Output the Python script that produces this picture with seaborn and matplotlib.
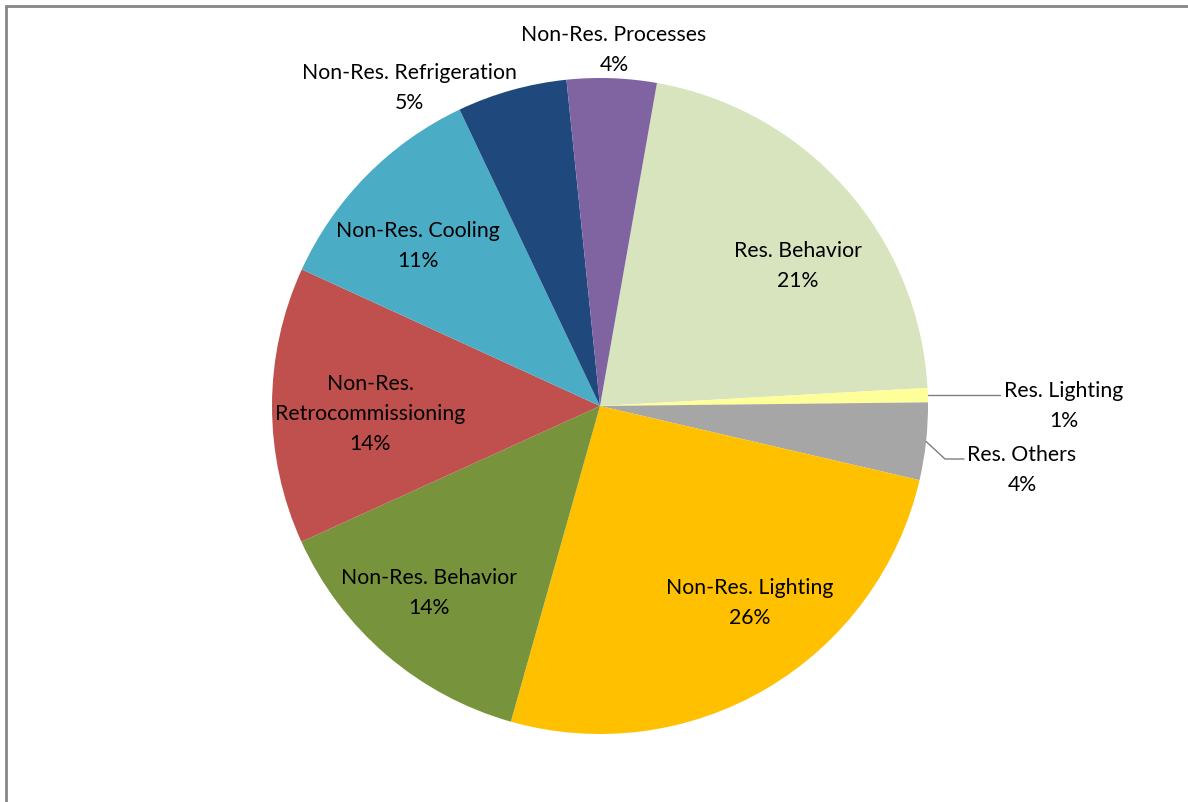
import numpy as np
import matplotlib
matplotlib.use("Agg")
import matplotlib.pyplot as plt
import seaborn as sns
from matplotlib.lines import Line2D

# ================================
# Datos
# ================================
categories = ["Res. Behavior", "Res. Lighting", "Res. Others",
              "Non-Res. Lighting", "Non-Res. Behavior",
              "Non-Res.\nRetrocommissioning", "Non-Res. Cooling",
              "Non-Res. Refrigeration", "Non-Res. Processes"]
shares = [21.3, 0.7, 3.8, 25.7, 13.8, 13.6, 11.1, 5.4, 4.4]
colors = ["#D7E4BD", "#FFFF99", "#A6A6A6", "#FFC000", "#77933C",
          "#C0504D", "#4BACC6", "#1F497D", "#8064A2"]

# posición del centro de cada etiqueta (px en la imagen, origen arriba-izquierda)
label_px = [(798, 266), (1064, 406), (1022, 470), (750, 603), (429, 593),
            (370, 414), (418, 246), (409, 88), (614, 50)]

sns.set_style("white")
plt.rcParams["font.family"] = ["Lato", "DejaVu Sans"]

W, H = 1188, 803
CX, CY, R = 600, 407, 328   # centro y radio del pastel en px

fig = plt.figure(figsize=(W / 100, H / 100), dpi=100)
ax = fig.add_axes([0, 0, 1, 1])

wedges, _ = ax.pie(shares, colors=colors, startangle=80, counterclock=False,
                   radius=1, wedgeprops=dict(linewidth=0))
ax.set_xlim(-CX / R, (W - CX) / R)
ax.set_ylim(-(H - CY) / R, CY / R)
ax.set_aspect("equal")
ax.axis("off")


def to_data(px, py):
    return (px - CX) / R, (CY - py) / R


for cat, val, (px, py) in zip(categories, shares, label_px):
    x, y = to_data(px, py)
    ax.text(x, y, f"{cat}\n{val:.0f}%", ha="center", va="center",
            fontsize=15.3, linespacing=1.62, color="black")

# líneas guía para las dos rebanadas pequeñas
def edge_point(w):
    ang = np.deg2rad((w.theta1 + w.theta2) / 2)
    return np.cos(ang), np.sin(ang)

ex, ey = edge_point(wedges[1])
x1, y1 = to_data(1000, 396)
ax.plot([ex, x1], [ey, ey], color="#7F7F7F", lw=1)

ex, ey = edge_point(wedges[2])
xa, ya = to_data(945, 460)
xb, yb = to_data(964, 460)
ax.plot([ex, xa, xb], [ey, ya, yb], color="#7F7F7F", lw=1)

# borde del área del gráfico (recortado arriba y a la izquierda)
fig.add_artist(Line2D([5.5 / W, 5.5 / W], [0, 1 - 6.5 / H],
                      transform=fig.transFigure, color="#868686", lw=2))
fig.add_artist(Line2D([5.5 / W, 1], [1 - 6.5 / H, 1 - 6.5 / H],
                      transform=fig.transFigure, color="#868686", lw=2))

fig.savefig("out.png", dpi=100)
